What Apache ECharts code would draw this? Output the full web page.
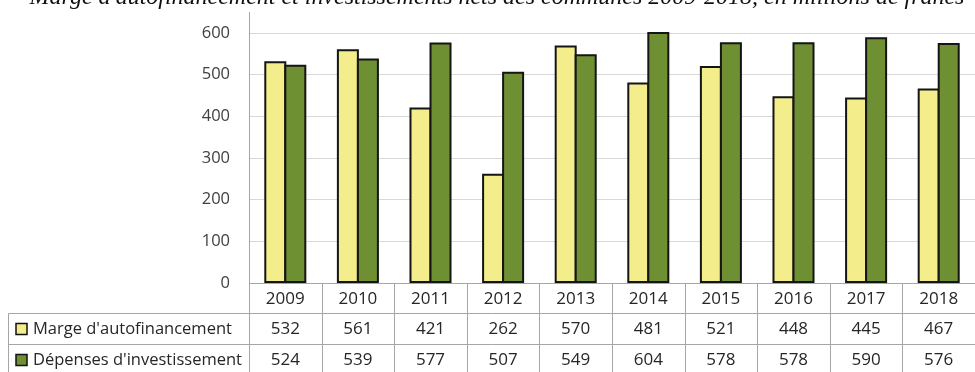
<!DOCTYPE html>
<html><head><meta charset="utf-8">
<script src="https://cdn.jsdelivr.net/npm/echarts@6/dist/echarts.min.js"></script>
<style>html,body{margin:0;padding:0;background:#fff;overflow:hidden}#c{width:975px;height:372px;}</style>
</head><body><div id="c"></div>
<script>
const chartTitle = "Marge d'autofinancement et investissements nets des communes 2009-2018, en millions de francs";
const years = ['2009','2010','2011','2012','2013','2014','2015','2016','2017','2018'];
const marge = [532,561,421,262,570,481,521,448,445,467];
const depenses = [524,539,577,507,549,604,578,578,590,576];
const seriesNames = ["Marge d'autofinancement","Dépenses d'investissement"];
const yMin = 0, yMax = 600, yStep = 100;

const colors = ['#F4ED8B', '#6E8F32'];
const FONT = "'Open Sans', sans-serif";
const GRID = {left: 249, right: -14, top: 33, bottom: 89};
const W = 975, H = 372;

const chart = echarts.init(document.getElementById('c'), null, {renderer: 'canvas'});

// fit title width
const cv = document.createElement('canvas').getContext('2d');
let tSize = 21;
cv.font = 'italic ' + tSize + "px 'Liberation Serif'";
const tw = cv.measureText(chartTitle).width;
tSize = tSize * 935 / tw;

chart.setOption({
  animation: false,
  backgroundColor: '#fff',
  grid: GRID,
  xAxis: {
    type: 'category', data: years,
    axisLine: {show: false}, axisTick: {show: false}, axisLabel: {show: false},
    splitLine: {show: false}
  },
  yAxis: {
    type: 'value', min: yMin, max: yMax, interval: yStep,
    axisLine: {show: false}, axisTick: {show: false},
    axisLabel: {color: '#404040', fontSize: 16.5, fontFamily: FONT, margin: 19},
    splitLine: {lineStyle: {color: '#d9d9d9', width: 1}}
  },
  series: [
    {name: seriesNames[0], type: 'bar', data: marge, barWidth: 22, barGap: '-9%',
     itemStyle: {color: colors[0], borderColor: '#151515', borderWidth: 2}},
    {name: seriesNames[1], type: 'bar', data: depenses, barWidth: 22, barGap: '-9%',
     itemStyle: {color: colors[1], borderColor: '#151515', borderWidth: 2}}
  ]
});

// table built from the axis scale
const x0 = chart.convertToPixel({xAxisIndex: 0}, 0);
const x1 = chart.convertToPixel({xAxisIndex: 0}, 1);
const cw = x1 - x0;
const leftEdge = x0 - cw / 2;
const yZero = chart.convertToPixel({yAxisIndex: 0}, 0);
const rowH = [30, 31, 31];
const r0 = yZero, r1 = r0 + rowH[0], r2 = r1 + rowH[1], r3 = r2 + rowH[2];
const lineCol = '#a6a6a6';
const g = [];
function line(xa, ya, xb, yb) {
  g.push({type: 'line', shape: {x1: xa, y1: ya, x2: xb, y2: yb}, style: {stroke: lineCol, lineWidth: 1}, silent: true});
}
function txt(x, y, s, align, size, color) {
  g.push({type: 'text', x: x, y: y, style: {text: s, font: (size || 17) + 'px ' + FONT, fill: color || '#262626', align: align || 'center', verticalAlign: 'middle'}, silent: true});
}
const lx = Math.round(leftEdge) + 0.5;
line(lx, 12, lx, H);
line(lx, Math.round(r0) + 0.5, W, Math.round(r0) + 0.5);
line(8.5, Math.round(r1) + 0.5, W, Math.round(r1) + 0.5);
line(8.5, Math.round(r2) + 0.5, W, Math.round(r2) + 0.5);
line(8.5, Math.round(r1) + 0.5, 8.5, H);
for (let i = 1; i < years.length + 1; i++) {
  const bx = Math.round(leftEdge + i * cw) + 0.5;
  line(bx, Math.round(r0), bx, H);
}
years.forEach((yv, i) => {
  const cx = chart.convertToPixel({xAxisIndex: 0}, i);
  txt(cx, (r0 + r1) / 2 + 1, yv);
  txt(cx, (r1 + r2) / 2 + 1, String(marge[i]));
  txt(cx, (r2 + r3) / 2 + 1, String(depenses[i]));
});
[[r1, r2], [r2, r3]].forEach((r, k) => {
  const cy = (r[0] + r[1]) / 2;
  g.push({type: 'rect', shape: {x: 16, y: cy - 5, width: 11, height: 11}, style: {fill: colors[k], stroke: '#111', lineWidth: 1.5}, silent: true});
  txt(33, cy + 1, seriesNames[k], 'left', 16.5);
});
g.push({type: 'text', x: 497, y: -2, style: {text: chartTitle, font: 'italic ' + tSize.toFixed(2) + "px 'Liberation Serif'", fill: '#111', align: 'center', verticalAlign: 'middle'}, silent: true});
chart.setOption({graphic: g});
</script>
</body></html>
